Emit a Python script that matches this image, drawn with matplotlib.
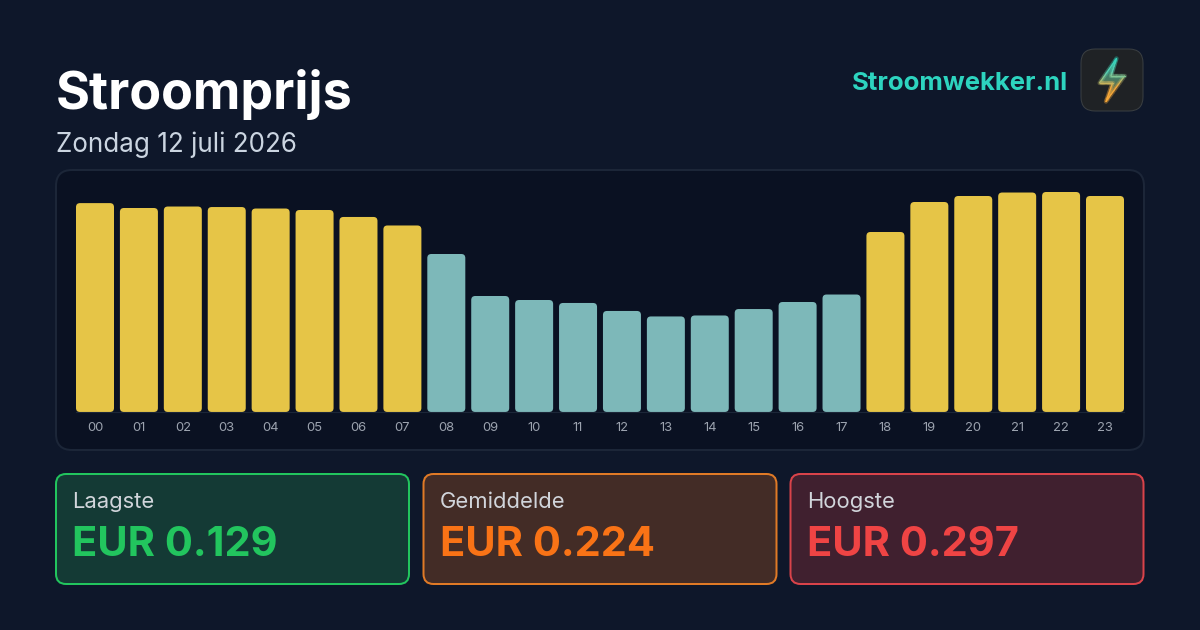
#!/usr/bin/env python3
# Stroomprijs dagkaart
from matplotlib import pyplot as plt
from matplotlib.patches import FancyBboxPatch, Polygon
from matplotlib.collections import LineCollection
from matplotlib.colors import LinearSegmentedColormap
import numpy as np

plt.rcParams['font.family'] = ['Inter', 'DejaVu Sans']

hours = ["%02d" % h for h in range(24)]
prices = [0.282, 0.2754, 0.2774, 0.2767, 0.2747, 0.2727, 0.2633, 0.2518,
          0.2133, 0.1566, 0.1512, 0.1472, 0.1364, 0.129, 0.1303, 0.139,
          0.1485, 0.1586, 0.243, 0.2835, 0.2916, 0.2963, 0.297, 0.2916]
cheap_hours = list(range(8, 18))

card_labels = ["Laagste", "Gemiddelde", "Hoogste"]
card_values = ["EUR 0.129", "EUR 0.224", "EUR 0.297"]
card_edges = ["#22c55e", "#f97316", "#ef4444"]
card_borders = ["#22c55e", "#e07a26", "#d9434a"]
card_fills = ["#143a35", "#432c26", "#40202f"]
card_lefts = [56, 423.5, 790.5]

BG = "#0e172a"
YELLOW = "#e6c547"
TEAL = "#7db8b9"


def px(size):
    # font size in pixels to points
    return size * 0.72


fig = plt.figure(figsize=(12, 6.3), dpi=100, facecolor=BG)

# whole figure in pixel coordinates for everything around the bars
bg = fig.add_axes([0, 0, 1, 1])
bg.axis("off")


def round_box(x, y, w, h, r, face, edge, lw=2):
    bg.add_patch(FancyBboxPatch((x, y), w, h, boxstyle="round,pad=0,rounding_size=%g" % r,
                                facecolor=face, edgecolor=edge, linewidth=lw * 0.72))


bg.text(56, 89, "Stroomprijs", color="white", fontsize=px(52), fontweight="bold", va="center_baseline", ha="left")
bg.text(56, 142, "Zondag 12 juli 2026", color="#cbd5e1", fontsize=px(26), va="center_baseline", ha="left")
bg.text(1068, 81, "Stroomwekker.nl", color="#2dd4bf", fontsize=px(25.7), fontweight="bold", va="center_baseline", ha="right")

# icon
round_box(1081, 49, 62, 62, 14, "#1f2225", "#3a3f42", 1)
bolt_x = [1116.5, 1099.5, 1112.5, 1106, 1124.5, 1111, 1116.5]
bolt_y = [58.5, 83, 83, 101.5, 76, 76, 58.5]
cmap = LinearSegmentedColormap.from_list("bolt", ["#2dd4bf", "#5fd0b0", "#f5a83a", "#f9a938"])
shape = Polygon(list(zip(bolt_x, bolt_y)), closed=True, facecolor="none", edgecolor="none")
bg.add_patch(shape)
fill_grad = LinearSegmentedColormap.from_list("boltfill", ["#1a8f8a", "#4a7a62", "#94682c"])
img = bg.imshow(np.linspace(0, 1, 50).reshape(-1, 1), cmap=fill_grad, aspect="auto",
                extent=(1098, 1126, 103, 57), zorder=2)
img.set_clip_path(shape)
xs = np.concatenate([np.linspace(bolt_x[i], bolt_x[i + 1], 12) for i in range(len(bolt_x) - 1)])
ys = np.concatenate([np.linspace(bolt_y[i], bolt_y[i + 1], 12) for i in range(len(bolt_y) - 1)])
segs = np.stack([np.column_stack([xs[:-1], ys[:-1]]), np.column_stack([xs[1:], ys[1:]])], axis=1)
for lw, alpha in [(3.2, 0.2), (0.9, 1)]:
    lc = LineCollection(segs, cmap=cmap, linewidths=lw, alpha=alpha, capstyle="round", zorder=3)
    lc.set_array((ys[:-1] - 58) / 44)
    lc.set_clim(0, 1)
    bg.add_collection(lc)

# chart panel
round_box(56, 170, 1088, 280, 16, "#0a1122", "#1c2638", 2)

# stat cards
for left, label, value, edge, border, fill in zip(card_lefts, card_labels, card_values, card_edges, card_borders, card_fills):
    round_box(left, 474, 353, 110, 10, fill, border, 2)
    bg.text(left + 16.5, 500, label, color="#d1d5db", fontsize=px(22), va="center_baseline", ha="left")
    bg.text(left + 16.5, 541, value, color=edge, fontsize=px(41.6), fontweight="bold", va="center_baseline", ha="left")

bg.set_xlim(0, 1200)
bg.set_ylim(630, 0)

# bars, axes spans pixels 60-1140 horizontally and 172-412 vertically
pitch = (1105 - 95) / 23
unit = 220 / max(prices)
ax = fig.add_axes([60 / 1200, 1 - 412 / 630, 1080 / 1200, 240 / 630])
ax.patch.set_alpha(0)
ax.set_xlim((60 - 95) / pitch, (1140 - 95) / pitch)
ax.set_ylim(0, 240 / unit)
bar_w = 38 / pitch
for i, p in enumerate(prices):
    col = TEAL if i in cheap_hours else YELLOW
    ax.add_patch(FancyBboxPatch((i - bar_w / 2, 0), bar_w, p,
                                boxstyle="round,pad=0,rounding_size=%g" % (4 / pitch),
                                mutation_aspect=pitch / unit, facecolor=col, edgecolor="none"))
for s in ["top", "left", "right"]:
    ax.spines[s].set_visible(False)
ax.spines["bottom"].set_color("#1c2638")
ax.spines["bottom"].set_bounds((76 - 95) / pitch, (1124 - 95) / pitch)
ax.set_yticks([])
ax.set_xticks(range(24))
ax.set_xticklabels(hours, color="#9ca3af", fontsize=px(13))
ax.tick_params(axis="x", length=0, pad=7)

fig.savefig("out.png", dpi=100, facecolor=BG)
